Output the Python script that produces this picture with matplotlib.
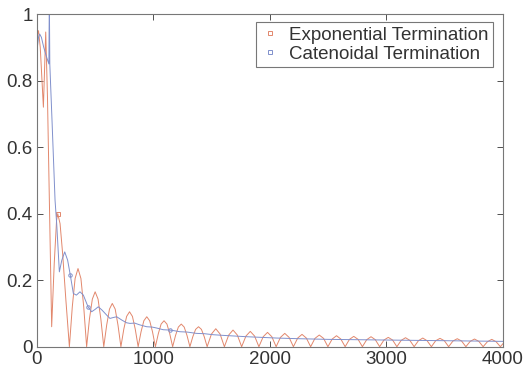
import matplotlib
matplotlib.use('Agg')
import matplotlib.pyplot as plt
from matplotlib.lines import Line2D

# values
red_x = [0, 15, 30, 57, 77, 92, 108, 128, 150, 170, 180, 200, 222, 250,
         280, 305, 329, 354, 379, 403,
         428, 452, 477, 501, 526, 550,
         575, 600, 624, 648, 673, 697,
         722, 747, 771, 796, 821, 845,
         870, 895, 919, 944, 969, 993,
         1018, 1043, 1067, 1092, 1117, 1141,
         1166, 1191, 1215, 1240, 1265, 1289,
         1314, 1339, 1363, 1388, 1413, 1437,
         1462, 1499, 1536, 1573,
         1610, 1647, 1684, 1721,
         1758, 1795, 1832, 1869,
         1906, 1943, 1980, 2017,
         2054, 2091, 2128, 2165,
         2202, 2239, 2276, 2313,
         2350, 2387, 2424, 2461,
         2498, 2535, 2572, 2609,
         2646, 2683, 2720, 2757,
         2794, 2831, 2868, 2905,
         2942, 2979, 3016, 3053,
         3090, 3127, 3164, 3201,
         3238, 3275, 3312, 3349,
         3386, 3423, 3460, 3497,
         3534, 3571, 3608, 3645,
         3682, 3719, 3756, 3793,
         3830, 3867, 3904, 3941,
         3978, 4000]
red_y = [0.93, 0.95, 0.90, 0.72, 0.946, 0.75, 0.44, 0.06, 0.25, 0.38, 0.40, 0.37, 0.28, 0.14,
         0, 0.12, 0.205, 0.235, 0.205, 0.12,
         0, 0.083, 0.143, 0.165, 0.143, 0.083,
         0, 0.065, 0.113, 0.130, 0.113, 0.065,
         0, 0.053, 0.091, 0.105, 0.091, 0.053,
         0, 0.045, 0.078, 0.090, 0.078, 0.045,
         0, 0.039, 0.068, 0.078, 0.068, 0.039,
         0, 0.034, 0.059, 0.068, 0.059, 0.034,
         0, 0.030, 0.052, 0.060, 0.052, 0.030,
         0, 0.038, 0.054, 0.038,
         0, 0.035, 0.050, 0.035,
         0, 0.032, 0.046, 0.032,
         0, 0.030, 0.043, 0.030,
         0, 0.028, 0.040, 0.028,
         0, 0.026, 0.037, 0.026,
         0, 0.025, 0.035, 0.025,
         0, 0.023, 0.033, 0.023,
         0, 0.022, 0.031, 0.022,
         0, 0.021, 0.030, 0.021,
         0, 0.020, 0.028, 0.020,
         0, 0.019, 0.027, 0.019,
         0, 0.018, 0.026, 0.018,
         0, 0.018, 0.025, 0.018,
         0, 0.017, 0.024, 0.017,
         0, 0.016, 0.023, 0.016,
         0, 0.015, 0.022, 0.015,
         0, 0.009]

blue_x = [0, 5, 15, 25, 40, 60, 85, 104, 108, 112, 131, 157, 171, 194, 215, 240,
          265, 288, 314, 340, 371, 400, 440, 471, 500, 528, 560, 600, 628, 660,
          686, 730, 770, 800, 840, 880, 943, 990, 1030, 1085, 1140, 1180, 1228,
          1290, 1330, 1371, 1440, 1514, 1600, 1700, 1800, 1930, 2057, 2250, 2500,
          2750, 3000, 3250, 3500, 3750, 4000]
blue_y = [0.80, 0.90, 0.93, 0.94, 0.93, 0.90, 0.87, 0.85, 1.05, 0.85, 0.68, 0.44, 0.37, 0.225, 0.26, 0.285,
          0.26, 0.215, 0.16, 0.155, 0.165, 0.155, 0.12, 0.105, 0.112, 0.12, 0.11, 0.095, 0.085, 0.088,
          0.09, 0.080, 0.072, 0.070, 0.071, 0.066, 0.060, 0.059, 0.056, 0.051, 0.050, 0.048, 0.045,
          0.044, 0.042, 0.040, 0.039, 0.036, 0.034, 0.032, 0.030, 0.028, 0.026, 0.024, 0.022,
          0.021, 0.020, 0.019, 0.018, 0.017, 0.016]

labels = ['Exponential Termination', 'Catenoidal Termination']
red = '#e2876c'
blue = '#8090cc'

plt.rcParams['font.family'] = ['Liberation Sans', 'DejaVu Sans']

fig = plt.figure(figsize=(5.25, 3.7), dpi=100)
ax = fig.add_axes([0.07, 0.063, 0.888, 0.899])

ax.plot(red_x, red_y, color=red, lw=0.7, marker='s', ms=3, mfc='none', mew=0.7,
        markevery=[10])
ax.plot(blue_x, blue_y, color=blue, lw=0.7, marker='o', ms=2.5, mfc='none', mew=0.7,
        markevery=[17, 22, 40])

ax.set_xlim(0, 4000)
ax.set_ylim(0, 1)
ax.set_xticks([0, 1000, 2000, 3000, 4000])
ax.set_yticks([0, 0.2, 0.4, 0.6, 0.8, 1])
ax.set_yticklabels(['0', '0.2', '0.4', '0.6', '0.8', '1'])
ax.tick_params(direction='in', length=4, width=0.6, top=True, right=True,
               labelsize=13.5, colors='#333333', pad=3)
for s in ax.spines.values():
    s.set_color('#777777')
    s.set_linewidth(0.8)

handles = [Line2D([], [], ls='none', marker='s', ms=3, mfc='none', mec=red, mew=0.7),
           Line2D([], [], ls='none', marker='s', ms=3, mfc='none', mec=blue, mew=0.7)]
leg = ax.legend(handles, labels, loc='upper right', bbox_to_anchor=(0.979, 0.977),
                borderaxespad=0, fontsize=13.5, fancybox=False, framealpha=1,
                handlelength=1.0, handletextpad=0.5, borderpad=0.25, labelspacing=0.1)
leg.get_frame().set_edgecolor('#777777')
leg.get_frame().set_linewidth(0.8)
for t in leg.get_texts():
    t.set_color('#333333')

fig.savefig('out.png', dpi=100)
